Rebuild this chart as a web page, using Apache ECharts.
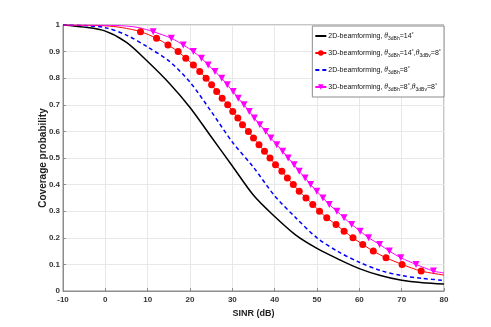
<!DOCTYPE html>
<html>
<head>
<meta charset="utf-8">
<script src="https://cdn.jsdelivr.net/npm/echarts@6/dist/echarts.min.js"></script>
<style>
html, body { margin: 0; padding: 0; background: #fff; }
#chart { width: 491px; height: 327px; }
</style>
</head>
<body>
<div id="chart"></div>
<script>
// 2D-beamforming, theta3dBh = 14
const sinrBlack = [-10, -5, 0, 5, 10, 15, 20, 25, 30, 35, 40, 45, 50, 55, 60, 65, 70, 75, 80];
const pBlack = [1.0, 0.992, 0.977, 0.935, 0.863, 0.783, 0.69, 0.58, 0.47, 0.36, 0.28, 0.21, 0.16, 0.12, 0.084, 0.058, 0.04, 0.031, 0.026];

// 2D-beamforming, theta3dBh = 8
const sinrBlue = [-10, -5, 0, 5, 10, 15, 20, 25, 30, 35, 40, 45, 50, 55, 60, 65, 70, 75, 80];
const pBlue = [1.0, 0.998, 0.99, 0.962, 0.917, 0.865, 0.785, 0.675, 0.56, 0.465, 0.358, 0.275, 0.2, 0.148, 0.108, 0.077, 0.058, 0.047, 0.04];

// 3D-beamforming, 14 / 8  (line-only points, then marker points)
const sinrRedLine = [-10, -5, 0, 4, 80];
const pRedLine = [1.0, 0.999, 0.997, 0.99, 0.06];
const sinrRedMark = [8.3, 12.1, 14.8, 17.2, 19.0, 20.8, 22.3, 23.8, 25.1, 26.3, 27.6, 28.9, 30.1, 31.3, 32.4, 33.8, 35.0, 36.3, 37.6, 38.9, 40.2, 41.7, 43.0, 44.4, 45.8, 47.4, 49.0, 50.6, 52.3, 54.5, 56.4, 58.5, 60.8, 63.3, 66.3, 70.1, 74.6];
const pRedMark = [0.975, 0.95, 0.925, 0.9, 0.875, 0.85, 0.825, 0.8, 0.775, 0.75, 0.725, 0.7, 0.675, 0.65, 0.625, 0.6, 0.575, 0.55, 0.525, 0.5, 0.475, 0.45, 0.425, 0.4, 0.375, 0.35, 0.325, 0.3, 0.275, 0.25, 0.225, 0.2, 0.175, 0.15, 0.125, 0.1, 0.075];

// 3D-beamforming, 8 / 8
const sinrMagLine = [-10, 0, 5, 8, 80];
const pMagLine = [1.0, 0.999, 0.996, 0.99, 0.068];
const sinrMagMark = [11.3, 15.6, 18.4, 20.8, 22.7, 24.3, 25.9, 27.5, 28.8, 30.2, 31.4, 32.75, 34.0, 35.2, 36.5, 37.9, 39.1, 40.5, 41.9, 43.2, 44.6, 45.8, 47.2, 48.5, 49.95, 51.4, 52.9, 54.7, 56.4, 58.2, 60.2, 62.2, 64.8, 67.1, 69.8, 73.4, 77.5];
const pMagMark = [0.975, 0.95, 0.925, 0.9, 0.875, 0.85, 0.825, 0.8, 0.775, 0.75, 0.725, 0.7, 0.675, 0.65, 0.625, 0.6, 0.575, 0.55, 0.525, 0.5, 0.475, 0.45, 0.425, 0.4, 0.375, 0.35, 0.325, 0.3, 0.275, 0.25, 0.225, 0.2, 0.175, 0.15, 0.125, 0.1, 0.075];

const names = [
	"2D-beamforming, θ3dBh=14°",
	"3D-beamforming, θ3dBh=14°,θ3dBv=8°",
	"2D-beamforming, θ3dBh=8°",
	"3D-beamforming, θ3dBh=8°,θ3dBv=8°"
];
const richNames = {};
richNames[names[0]] = "{n|2D-beamforming, }{i|θ}{s|3dBh}{n|=14}{p|°}";
richNames[names[1]] = "{n|3D-beamforming, }{i|θ}{s|3dBh}{n|=14}{p|°}{n|,}{i|θ}{s|3dBv}{n|=8}{p|°}";
richNames[names[2]] = "{n|2D-beamforming, }{i|θ}{s|3dBh}{n|=8}{p|°}";
richNames[names[3]] = "{n|3D-beamforming, }{i|θ}{s|3dBh}{n|=8}{p|°}{n|,}{i|θ}{s|3dBv}{n|=8}{p|°}";

function zip(xs, ys) {
	return xs.map(function(x, i) { return [x, ys[i]]; });
}
// line-only points get no symbol, marker points keep the series symbol
function withMarks(lineX, lineY, markX, markY) {
	let pts = lineX.map(function(x, i) { return { value: [x, lineY[i]], symbol: "none" }; });
	pts = pts.concat(markX.map(function(x, i) { return { value: [x, markY[i]] }; }));
	pts.sort(function(a, b) { return a.value[0] - b.value[0]; });
	return pts;
}

const font = "'Liberation Sans', Arial, sans-serif";

let chart = echarts.init(document.getElementById("chart"), null, { renderer: "canvas" });
let option = {
	animation: false,
	backgroundColor: "#fff",
	grid: {
		left: 63, right: 47, top: 25, bottom: 36,
		show: true, borderColor: "#8c8c8c", borderWidth: 1
	},
	legend: {
		orient: "vertical",
		right: 47, top: 26,
		backgroundColor: "#fff",
		borderColor: "#8c8c8c",
		borderWidth: 1,
		padding: [5, 3, 5, 2],
		itemGap: 7,
		itemWidth: 11,
		itemHeight: 7,
		data: [
			{ name: names[0], itemStyle: { opacity: 0 } },
			{ name: names[1] },
			{ name: names[2], itemStyle: { opacity: 0 } },
			{ name: names[3] }
		],
		formatter: function(name) { return richNames[name]; },
		textStyle: {
			padding: [0, 0, 0, -3],
			rich: {
				n: { fontFamily: font, fontSize: 7, color: "#111" },
				i: { fontFamily: "'Liberation Serif', serif", fontSize: 7.5, fontStyle: "italic", color: "#111" },
				s: { fontFamily: font, fontSize: 5, color: "#111", padding: [5, 0, 0, 0] },
				p: { fontFamily: font, fontSize: 5.5, color: "#111", padding: [0, 0, 4, 0] }
			}
		}
	},
	xAxis: {
		type: "value",
		min: -10, max: 80, interval: 10,
		name: "SINR (dB)",
		nameLocation: "middle",
		nameGap: 18,
		nameTextStyle: { fontFamily: font, fontSize: 9, fontWeight: "bold", color: "#222" },
		axisLine: { lineStyle: { color: "#8c8c8c" } },
		axisTick: { inside: true, length: 3, lineStyle: { color: "#8c8c8c" } },
		axisLabel: { fontFamily: font, fontSize: 8, fontWeight: "bold", color: "#333", margin: 5 },
		splitLine: { lineStyle: { color: "#e8e8e8" } }
	},
	yAxis: {
		type: "value",
		min: 0, max: 1, interval: 0.1,
		name: "Coverage probability",
		nameLocation: "middle",
		nameGap: 15,
		nameMoveOverlap: false,
		nameTextStyle: { fontFamily: font, fontSize: 10, fontWeight: "bold", color: "#222" },
		axisLine: { onZero: false, lineStyle: { color: "#8c8c8c" } },
		axisTick: { inside: true, length: 3, lineStyle: { color: "#8c8c8c" } },
		axisLabel: {
			fontFamily: font, fontSize: 8, fontWeight: "bold", color: "#333", margin: 3,
			formatter: function(v) { return String(Math.round(v * 10) / 10); }
		},
		splitLine: { lineStyle: { color: "#e8e8e8" } }
	},
	series: [
		{
			name: names[0], type: "line", smooth: 0.3,
			symbol: "none",
			lineStyle: { color: "#000", width: 1.5 },
			itemStyle: { color: "#000" },
			data: zip(sinrBlack, pBlack), z: 3
		},
		{
			name: names[1], type: "line", smooth: 0.3,
			symbol: "circle", symbolSize: 7,
			lineStyle: { color: "#ff0000", width: 1 },
			itemStyle: { color: "#ff0000" },
			data: withMarks(sinrRedLine, pRedLine, sinrRedMark, pRedMark), z: 4
		},
		{
			name: names[2], type: "line", smooth: 0.3,
			symbol: "none",
			lineStyle: { color: "#0000ff", width: 1.5, type: [4, 3] },
			itemStyle: { color: "#0000ff" },
			data: zip(sinrBlue, pBlue), z: 3
		},
		{
			name: names[3], type: "line", smooth: 0.3,
			symbol: "triangle", symbolRotate: 180, symbolSize: 7,
			lineStyle: { color: "#ff00ff", width: 1 },
			itemStyle: { color: "#ff00ff" },
			data: withMarks(sinrMagLine, pMagLine, sinrMagMark, pMagMark), z: 4
		}
	]
};
chart.setOption(option);
</script>
</body>
</html>
